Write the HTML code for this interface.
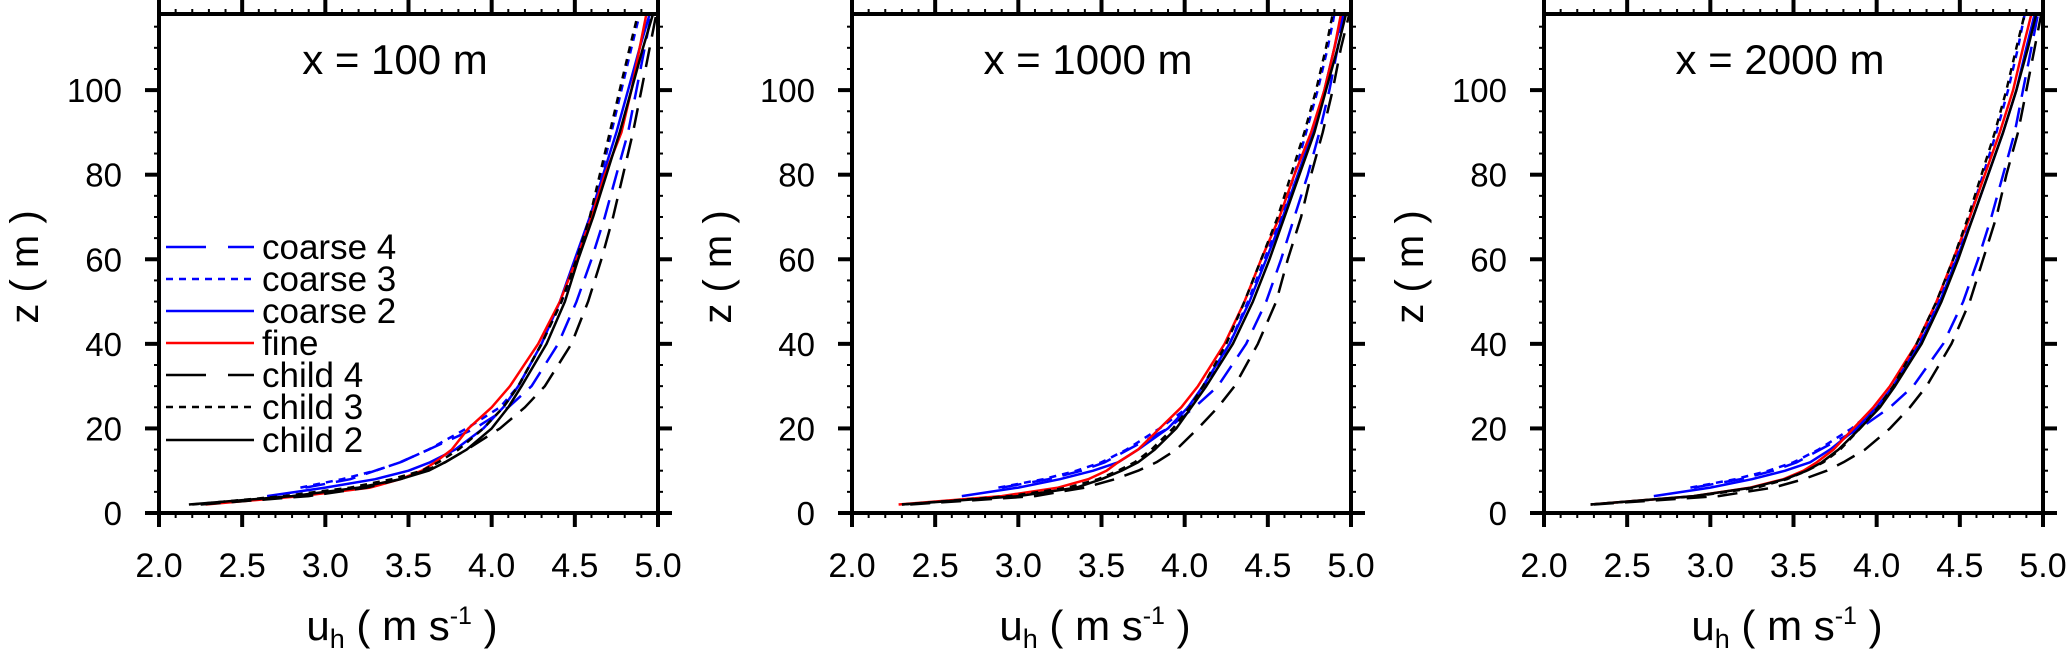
<!DOCTYPE html>
<html><head><meta charset="utf-8"><style>
html,body{margin:0;padding:0;background:#fff;}
svg{display:block;font-family:"Liberation Sans",sans-serif;}
</style></head><body>
<svg id="fig" width="2067" height="650" viewBox="0 0 2067 650" xmlns="http://www.w3.org/2000/svg"></svg>
<script>
const zLevels=[2,4,6,8,10,12,15,20,25,30,40,50,60,70,80,90,100,110,118];
const panelTitles=["x = 100 m","x = 1000 m","x = 2000 m"];
const xTicks=[2.0,2.5,3.0,3.5,4.0,4.5,5.0];
const xTickLabels=["2.0","2.5","3.0","3.5","4.0","4.5","5.0"];
const yTicks=[0,20,40,60,80,100];
const seriesNames=["coarse 4","coarse 3","coarse 2","fine","child 4","child 3","child 2"];
// panel 1 (x=100 m)
const p1_coarse4=[null,null,2.88,3.15,3.3,3.45,3.62,3.9,4.1,4.24,4.4,4.51,4.6,4.68,4.75,4.82,4.87,4.92,4.96];
const p1_coarse3=[null,null,2.85,3.1,3.3,3.45,3.62,3.85,4.05,4.16,4.3,4.42,4.52,4.6,4.66,4.72,4.78,4.84,4.89];
const p1_coarse2=[null,2.65,3.0,3.3,3.5,3.63,3.78,3.95,4.07,4.16,4.3,4.41,4.5,4.59,4.67,4.75,4.82,4.89,4.95];
const p1_fine=[2.28,2.85,3.27,3.45,3.58,3.66,3.76,3.86,4.0,4.11,4.28,4.41,4.51,4.6,4.68,4.78,4.84,4.89,4.93];
const p1_child4=[2.25,2.9,3.25,3.45,3.6,3.72,3.85,4.05,4.2,4.32,4.48,4.58,4.66,4.73,4.79,4.85,4.9,4.95,4.99];
const p1_child3=[2.2,2.75,3.15,3.4,3.58,3.68,3.8,3.95,4.07,4.16,4.3,4.42,4.51,4.59,4.65,4.71,4.77,4.83,4.88];
const p1_child2=[2.18,2.8,3.2,3.45,3.62,3.72,3.85,4.0,4.1,4.18,4.33,4.44,4.52,4.61,4.69,4.77,4.84,4.91,4.97];
// panel 2 (x=1000 m)
const p2_coarse4=[null,null,2.9,3.18,3.38,3.52,3.66,3.9,4.06,4.2,4.37,4.49,4.58,4.66,4.74,4.81,4.87,4.92,4.96];
const p2_coarse3=[null,null,2.88,3.15,3.35,3.5,3.65,3.85,4.02,4.12,4.27,4.38,4.48,4.58,4.66,4.73,4.8,4.86,4.9];
const p2_coarse2=[null,2.66,3.0,3.25,3.45,3.6,3.72,3.9,4.02,4.11,4.27,4.39,4.49,4.59,4.68,4.77,4.84,4.9,4.95];
const p2_fine=[2.28,2.9,3.24,3.42,3.53,3.6,3.72,3.85,3.98,4.08,4.24,4.36,4.46,4.57,4.66,4.76,4.84,4.9,4.94];
const p2_child4=[2.35,3.1,3.4,3.58,3.72,3.83,3.95,4.08,4.2,4.3,4.44,4.55,4.62,4.7,4.76,4.83,4.89,4.94,4.99];
const p2_child3=[2.3,2.95,3.3,3.48,3.6,3.7,3.8,3.93,4.03,4.11,4.25,4.36,4.46,4.56,4.64,4.72,4.79,4.85,4.89];
const p2_child2=[2.3,3.0,3.35,3.5,3.62,3.72,3.82,3.95,4.04,4.13,4.29,4.41,4.51,4.6,4.69,4.78,4.85,4.92,4.97];
// panel 3 (x=2000 m)
const p3_coarse4=[null,null,2.9,3.18,3.38,3.52,3.66,3.9,4.08,4.22,4.4,4.52,4.61,4.69,4.76,4.83,4.88,4.93,4.97];
const p3_coarse3=[null,null,2.88,3.15,3.35,3.5,3.65,3.85,4.0,4.1,4.25,4.37,4.47,4.56,4.64,4.72,4.79,4.85,4.89];
const p3_coarse2=[null,2.66,3.0,3.25,3.45,3.6,3.72,3.88,4.0,4.1,4.26,4.38,4.48,4.58,4.67,4.76,4.84,4.9,4.95];
const p3_fine=[2.28,2.9,3.24,3.44,3.56,3.64,3.74,3.86,3.98,4.08,4.24,4.36,4.46,4.56,4.65,4.74,4.82,4.88,4.93];
const p3_child4=[2.3,3.05,3.38,3.56,3.7,3.8,3.93,4.08,4.2,4.3,4.45,4.56,4.64,4.72,4.78,4.85,4.9,4.95,4.99];
const p3_child3=[2.28,2.92,3.28,3.46,3.58,3.68,3.78,3.9,4.01,4.1,4.24,4.36,4.46,4.55,4.63,4.71,4.78,4.84,4.89];
const p3_child2=[2.28,2.9,3.25,3.45,3.58,3.67,3.77,3.9,4.02,4.11,4.27,4.39,4.49,4.58,4.67,4.76,4.84,4.91,4.96];

const panelData=[
 [p1_coarse4,p1_coarse3,p1_coarse2,p1_fine,p1_child4,p1_child3,p1_child2],
 [p2_coarse4,p2_coarse3,p2_coarse2,p2_fine,p2_child4,p2_child3,p2_child2],
 [p3_coarse4,p3_coarse3,p3_coarse2,p3_fine,p3_child4,p3_child3,p3_child2]
];
const styles=[
 {c:"#0000ff",d:"20 11"},{c:"#0000ff",d:"7 6"},{c:"#0000ff",d:""},{c:"#ff0000",d:""},
 {c:"#000000",d:"20 11"},{c:"#000000",d:"7 6"},{c:"#000000",d:""}
];
const NS="http://www.w3.org/2000/svg";
const svgEl=document.getElementById('fig');
function mk(tag,attrs,parent){const e=document.createElementNS(NS,tag);for(const k in attrs)e.setAttribute(k,attrs[k]);(parent||svgEl).appendChild(e);return e;}
const panelLeft=[159,852,1544], W=499, topY=14, bottomY=513, zMax=118;
const X0=2,X1=5;
panelLeft.forEach((L,p)=>{
  const g=mk('g',{});
  
  
  const xs=v=>L+(v-X0)/(X1-X0)*W;
  const ys=v=>bottomY-(v/zMax)*(bottomY-topY);
  panelData[p].forEach((arr,s)=>{
    let d="";
    arr.forEach((u,i)=>{if(u===null)return;d+=(d?"L":"M")+xs(u).toFixed(1)+","+ys(zLevels[i]).toFixed(1);});
    const path=mk('path',{d:d,fill:"none",stroke:styles[s].c,"stroke-width":2.5,"stroke-dasharray":styles[s].d||"none","stroke-linejoin":"round"},g);
    
    
  });
  const fr=mk('rect',{x:L,y:topY,width:W,height:bottomY-topY,fill:"none",stroke:"#000","stroke-width":4},g);
  
  
  for(let k=0;k<=30;k++){
    const v=X0+k*0.1, x=xs(v), major=(k%5===0), len=major?14:5;
    mk('line',{x1:x,y1:bottomY,x2:x,y2:bottomY+len,stroke:"#000","stroke-width":major?4:2},g);
    mk('line',{x1:x,y1:topY,x2:x,y2:topY-len,stroke:"#000","stroke-width":major?4:2},g);
  }
  xTicks.forEach((v,i)=>{
    const t=mk('text',{x:xs(v),y:577,"font-size":34,"text-anchor":"middle"},g);t.textContent=xTickLabels[i];
    
    
  });
  for(let k=0;k*5<=zMax;k++){
    const v=k*5,y=ys(v),major=(v%20===0),len=major?14:5;
    mk('line',{x1:L,y1:y,x2:L-len,y2:y,stroke:"#000","stroke-width":major?4:2},g);
    mk('line',{x1:L+W,y1:y,x2:L+W+len,y2:y,stroke:"#000","stroke-width":major?4:2},g);
  }
  yTicks.forEach(v=>{
    const t=mk('text',{x:L-37,y:ys(v)+12,"font-size":33,"text-anchor":"end"},g);t.textContent=String(v);
    
    
  });
  const tt=mk('text',{x:L+236,y:74,"font-size":42,"text-anchor":"middle"},g);tt.textContent=panelTitles[p];
  
  
  const yt=mk('text',{x:0,y:0,"font-size":40,"text-anchor":"middle",transform:`translate(${L-121},267) rotate(-90)`},g);yt.textContent="z ( m )";
  
  
  const xt=mk('text',{x:L+243,y:640,"font-size":42,"text-anchor":"middle"},g);
  const parts=[["u",{}],["h",{"font-size":27,dy:8}],[" ( m s",{dy:-8}],["-1",{"font-size":25,dy:-16}],[" )",{dy:16}]];
  parts.forEach(([txt,a])=>{const ts=mk('tspan',a,xt);ts.textContent=txt;});
  
  
});
const lg=mk('g',{});


const legY=[247,279,311,343,375,407,440];
seriesNames.forEach((n,s)=>{
  const e=mk('g',{},lg);
  
  
  const dash=styles[s].d==="20 11"?"40 22 26 10":(styles[s].d||"none");
  mk('line',{x1:166,y1:legY[s],x2:254,y2:legY[s],stroke:styles[s].c,"stroke-width":2.5,"stroke-dasharray":dash},e);
  const t=mk('text',{x:262,y:legY[s]+12,"font-size":35},e);t.textContent=n;
});
</script>
</body></html>
